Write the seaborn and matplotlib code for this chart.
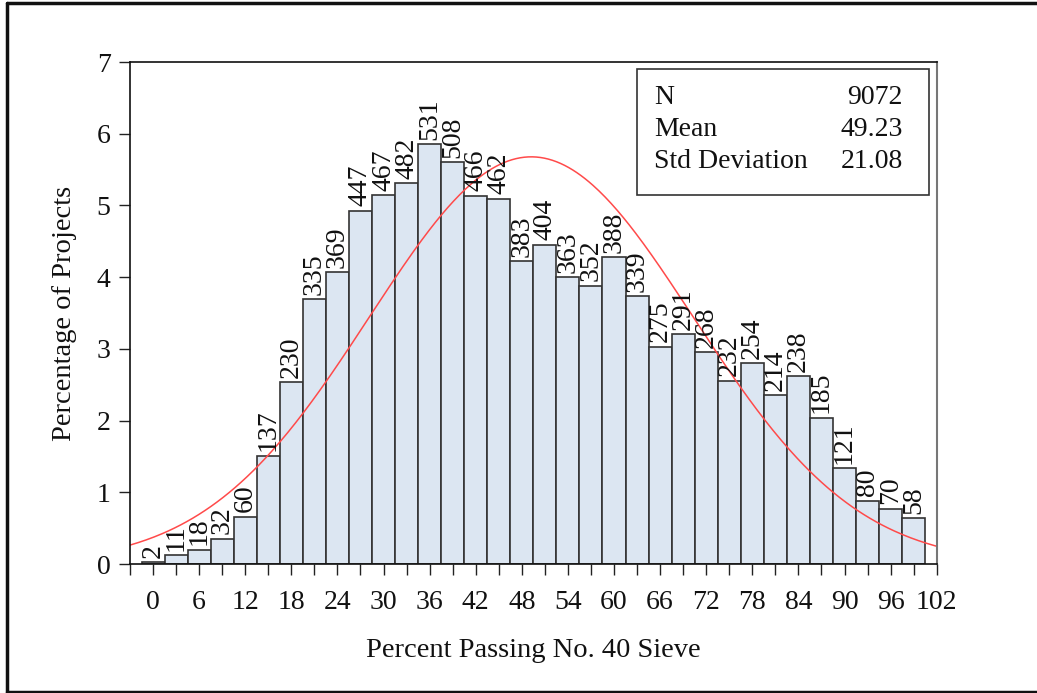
import numpy as np
import pandas as pd
import matplotlib
matplotlib.use("Agg")
import matplotlib.pyplot as plt
from matplotlib.lines import Line2D
from matplotlib.patches import Rectangle
import seaborn as sns

# Bin centres (percent passing No. 40 sieve) and project counts per 3-point bin
bin_centers = [0, 3, 6, 9, 12, 15, 18, 21, 24, 27, 30, 33, 36, 39, 42, 45, 48,
               51, 54, 57, 60, 63, 66, 69, 72, 75, 78, 81, 84, 87, 90, 93, 96, 99]
counts = [2, 11, 18, 32, 60, 137, 230, 335, 369, 447, 467, 482, 531, 508, 466,
          462, 383, 404, 363, 352, 388, 339, 275, 291, 268, 232, 254, 214, 238,
          185, 121, 80, 70, 58]
n_total = 9072
mean_val = 49.23
std_val = 21.08
bin_width = 3

df = pd.DataFrame({"center": bin_centers, "count": counts})
df["pct"] = df["count"] / n_total * 100

sns.set_theme(style="white")
plt.rcParams["font.family"] = ["Liberation Serif", "DejaVu Serif"]
plt.rcParams["font.size"] = 20

fig = plt.figure(figsize=(10.37, 6.93), dpi=100)
ax = fig.add_axes([130 / 1037, 1 - 564 / 693, (936.7 - 130) / 1037, (564 - 62) / 693])

sns.histplot(data=df, x="center", weights="pct", binwidth=bin_width,
             binrange=(-1.5, 100.5), stat="count", color="#dce6f2", alpha=1,
             edgecolor="#333333", linewidth=1.2, ax=ax)

# Fitted normal curve, scaled to percent per bin
xs = np.linspace(-3, 102, 400)
ys = 100 * bin_width * np.exp(-0.5 * ((xs - mean_val) / std_val) ** 2) / (std_val * np.sqrt(2 * np.pi))
sns.lineplot(x=xs, y=ys, color="#ff4a4a", linewidth=1.1, ax=ax)

# Count labels above each bar
for c, n, p in zip(df["center"], df["count"], df["pct"]):
    ax.text(c, p + 0.06, str(n), rotation=90, ha="center", va="bottom",
            fontsize=20, color="#111111")

ax.set_xlim(-3, 102)
ax.set_ylim(0, 7)
ax.set_xticks(np.arange(-3, 103, 3))
ax.set_xticklabels(["" if (t % 6 or t < 0) else str(t) for t in range(-3, 103, 3)])
ax.set_yticks(range(0, 8))
ax.tick_params(axis="both", direction="out", length=8, width=1, color="#222222",
               labelsize=20, labelcolor="#111111", bottom=True, left=True, pad=6)
ax.tick_params(axis="x", pad=11)
ax.set_xlabel("Percent Passing No. 40 Sieve", fontsize=20.5, labelpad=16, color="#111111")
ax.set_ylabel("Percentage of Projects", fontsize=20.5, labelpad=14, color="#111111")

for side in ["left", "bottom", "top"]:
    ax.spines[side].set_color("#111111")
    ax.spines[side].set_linewidth(1.2)
ax.spines["right"].set_color("#777777")
ax.spines["right"].set_linewidth(1.5)

# Summary statistics box
box = Rectangle((637 / 1037, 1 - 195 / 693), (929 - 637) / 1037, (195 - 69) / 693,
                transform=fig.transFigure, facecolor="white", edgecolor="#333333",
                linewidth=1.2, zorder=5)
fig.patches.append(box)
rows = [("N", "9072"), ("Mean", f"{mean_val:.2f}"), ("Std Deviation", f"{std_val:.2f}")]
for i, (lab, val) in enumerate(rows):
    yy = 1 - (97 + i * 32.5) / 693
    fig.text(654 / 1037, yy, lab, ha="left", va="center", fontsize=20, color="#111111", zorder=6)
    fig.text(903 / 1037, yy, val, ha="right", va="center", fontsize=20, color="#111111", zorder=6)

# Outer frame
frame_kw = dict(transform=fig.transFigure, color="#111111", linewidth=2.5)
fig.lines.append(Line2D([7 / 1037, 7 / 1037], [1 - 692 / 693, 1 - 3 / 693], **frame_kw))
fig.lines.append(Line2D([7 / 1037, 1], [1 - 3 / 693, 1 - 3 / 693], **frame_kw))
fig.lines.append(Line2D([7 / 1037, 1], [1 - 691.5 / 693, 1 - 691.5 / 693], **frame_kw))

fig.savefig("out.png", dpi=100)
